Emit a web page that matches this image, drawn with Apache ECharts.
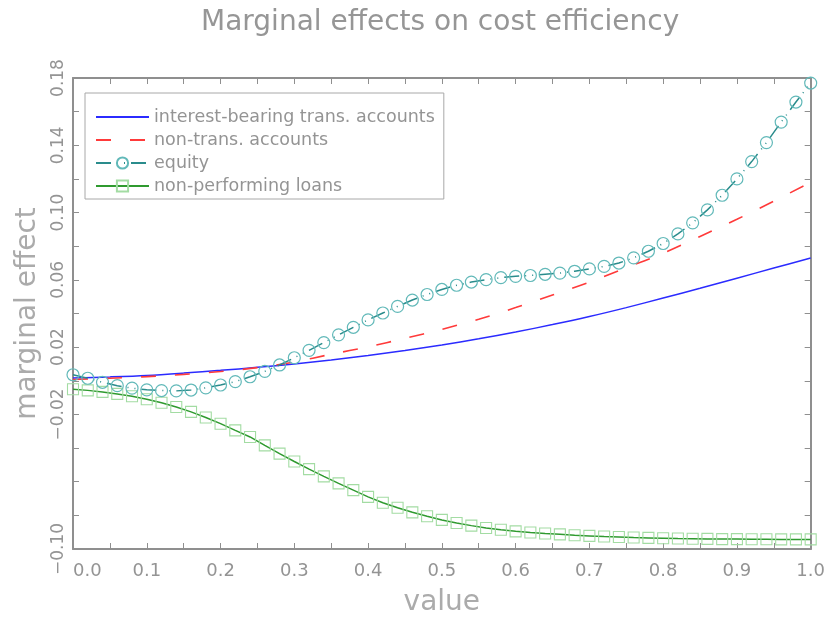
<!DOCTYPE html>
<html>
<head>
<meta charset="utf-8">
<script src="https://cdn.jsdelivr.net/npm/echarts@6/dist/echarts.min.js"></script>
<style>
html,body{margin:0;padding:0;background:#fff;}
#chart{width:828px;height:622px;}
</style>
</head>
<body>
<div id="chart"></div>
<script>
// ---- data ----
const xFine = [0.00,0.02,0.04,0.06,0.08,0.10,0.12,0.14,0.16,0.18,0.20,0.22,0.24,0.26,0.28,0.30,0.32,0.34,0.36,0.38,0.40,0.42,0.44,0.46,0.48,0.50,0.52,0.54,0.56,0.58,0.60,0.62,0.64,0.66,0.68,0.70,0.72,0.74,0.76,0.78,0.80,0.82,0.84,0.86,0.88,0.90,0.92,0.94,0.96,0.98,1.00];
const xCoarse = [0.00,0.05,0.10,0.15,0.20,0.25,0.30,0.35,0.40,0.45,0.50,0.55,0.60,0.65,0.70,0.75,0.80,0.85,0.90,0.95,1.00];

const interestBearing = [0.0016,0.0023,0.0032,0.0046,0.0062,0.0080,0.0100,0.0124,0.0150,0.0180,0.0213,0.0250,0.0290,0.0334,0.0382,0.0435,0.0492,0.0550,0.0610,0.0670,0.0730];
const nonTrans = [0.0008,0.0015,0.0025,0.0038,0.0055,0.0078,0.0112,0.0158,0.0202,0.0252,0.0306,0.0366,0.0435,0.0510,0.0586,0.0672,0.0758,0.0858,0.0960,0.1068,0.1180];
const equity = [0.0036,0.0015,-0.0009,-0.0029,-0.0044,-0.0054,-0.0058,-0.0060,-0.0055,-0.0042,-0.0025,-0.0005,0.0024,0.0056,0.0094,0.0137,0.0181,0.0227,0.0273,0.0318,0.0362,0.0403,0.0442,0.0480,0.0513,0.0543,0.0568,0.0587,0.0601,0.0613,0.0621,0.0626,0.0633,0.0640,0.0651,0.0665,0.0680,0.0700,0.0731,0.0770,0.0816,0.0873,0.0939,0.1016,0.1103,0.1200,0.1303,0.1416,0.1538,0.1657,0.1770];
const nonPerforming = [-0.0050,-0.0057,-0.0066,-0.0078,-0.0092,-0.0110,-0.0131,-0.0156,-0.0185,-0.0218,-0.0255,-0.0295,-0.0334,-0.0384,-0.0433,-0.0480,-0.0525,-0.0568,-0.0610,-0.0650,-0.0690,-0.0725,-0.0755,-0.0782,-0.0805,-0.0827,-0.0845,-0.0861,-0.0875,-0.0886,-0.0895,-0.0902,-0.0908,-0.0913,-0.0918,-0.0922,-0.0926,-0.0929,-0.0932,-0.0934,-0.0936,-0.0938,-0.0939,-0.0940,-0.0941,-0.0941,-0.0942,-0.0942,-0.0943,-0.0943,-0.0943];

const yTickLabels = ['0.18','0.14','0.10','0.06','0.02','-0.02','-0.10'];
const seriesNames = ['interest-bearing trans. accounts','non-trans. accounts','equity','non-performing loans'];

const pairs = (xs, ys) => xs.map((x, i) => [x, ys[i]]);

const FONT = 'DejaVu Sans';
const frameColor = '#8f8f8f';
const labelColor = '#949494';

const xBase = {
  type: 'value', min: 0, max: 1, interval: 0.1,
  axisLine: { show: true, onZero: false, lineStyle: { color: frameColor, width: 2 } },
  axisTick: { show: true, inside: true, length: 6, lineStyle: { color: frameColor, width: 1 } },
  minorTick: { show: true, splitNumber: 2, length: 6, lineStyle: { color: frameColor, width: 1 } },
  splitLine: { show: false }
};
const yBase = {
  type: 'value', min: -0.10, max: 0.18, interval: 0.02,
  axisLine: { show: true, onZero: false, lineStyle: { color: frameColor, width: 2 } },
  axisTick: { show: true, inside: true, length: 6, lineStyle: { color: frameColor, width: 1 } },
  splitLine: { show: false }
};

const chart = echarts.init(document.getElementById('chart'), null, { renderer: 'canvas' });
chart.setOption({
  animation: false,
  backgroundColor: '#fff',
  title: {
    text: 'Marginal effects on cost efficiency',
    left: 196, top: 4,
    textStyle: { fontFamily: FONT, fontSize: 28, fontWeight: 'normal', color: '#969696' }
  },
  grid: { left: 73, right: 17, top: 78, bottom: 69, containLabel: false },
  legend: {
    orient: 'vertical', left: 85, top: 93,
    padding: [15, 9, 4, 10], itemGap: 5,
    itemWidth: 53, itemHeight: 14,
    borderColor: '#a8a8a8', borderWidth: 1,
    backgroundColor: '#fff',
    textStyle: { fontFamily: FONT, fontSize: 17.5, color: labelColor },
    data: [
      { name: seriesNames[0], itemStyle: { opacity: 0 } },
      { name: seriesNames[1], itemStyle: { opacity: 0 } },
      { name: seriesNames[2] },
      { name: seriesNames[3] }
    ]
  },
  xAxis: [
    Object.assign({}, xBase, {
      position: 'bottom',
      name: 'value', nameLocation: 'middle', nameGap: 40,
      nameTextStyle: { fontFamily: FONT, fontSize: 28, color: '#ababab' },
      axisLabel: {
        margin: 13, fontFamily: FONT, fontSize: 18, color: labelColor,
        alignMinLabel: 'left',
        formatter: v => v.toFixed(1)
      }
    }),
    Object.assign({}, xBase, { position: 'top', axisLabel: { show: false } })
  ],
  yAxis: [
    Object.assign({}, yBase, {
      position: 'left',
      name: 'marginal effect', nameLocation: 'middle', nameGap: 30, nameRotate: 90,
      nameTextStyle: { fontFamily: FONT, fontSize: 28, color: '#ababab' },
      axisLabel: {
        rotate: 90, margin: 6, fontFamily: FONT, fontSize: 17, color: labelColor,
        showMinLabel: true, showMaxLabel: true,
        formatter: v => {
          const s = (Math.abs(v) < 1e-9 ? 0 : v).toFixed(2);
          return yTickLabels.includes(s) ? s.replace('-', '\u2212') : '';
        }
      }
    }),
    Object.assign({}, yBase, { position: 'right', axisLabel: { show: false } })
  ],
  series: [
    {
      name: seriesNames[0], type: 'line', xAxisIndex: 0, yAxisIndex: 0,
      data: pairs(xCoarse, interestBearing), smooth: 0.3,
      showSymbol: false, symbol: 'none',
      lineStyle: { color: '#2b2bff', width: 1.5 },
      itemStyle: { color: '#2b2bff' }, z: 2
    },
    {
      name: seriesNames[1], type: 'line', xAxisIndex: 0, yAxisIndex: 0,
      data: pairs(xCoarse, nonTrans), smooth: 0.3,
      showSymbol: false, symbol: 'none',
      lineStyle: { color: '#ff3a3a', width: 1.6, type: [15, 19] },
      itemStyle: { color: '#ff3a3a' }, z: 3
    },
    {
      name: seriesNames[2], type: 'line', xAxisIndex: 0, yAxisIndex: 0,
      data: pairs(xFine, equity),
      symbol: 'circle', symbolSize: 12, showSymbol: true,
      lineStyle: { color: '#2a8c8c', width: 1.5, type: [15, 6, 1, 6, 1, 6] },
      itemStyle: { color: 'rgba(0,0,0,0)', borderColor: '#62b9b9', borderWidth: 1.2 },
      z: 4
    },
    {
      name: seriesNames[3], type: 'line', xAxisIndex: 0, yAxisIndex: 0,
      data: pairs(xFine, nonPerforming),
      symbol: 'rect', symbolSize: 11, showSymbol: true,
      lineStyle: { color: '#2f9a2f', width: 1.5 },
      itemStyle: { color: 'rgba(0,0,0,0)', borderColor: '#a3dca3', borderWidth: 1.1 },
      z: 3
    }
  ]
});
</script>
</body>
</html>
